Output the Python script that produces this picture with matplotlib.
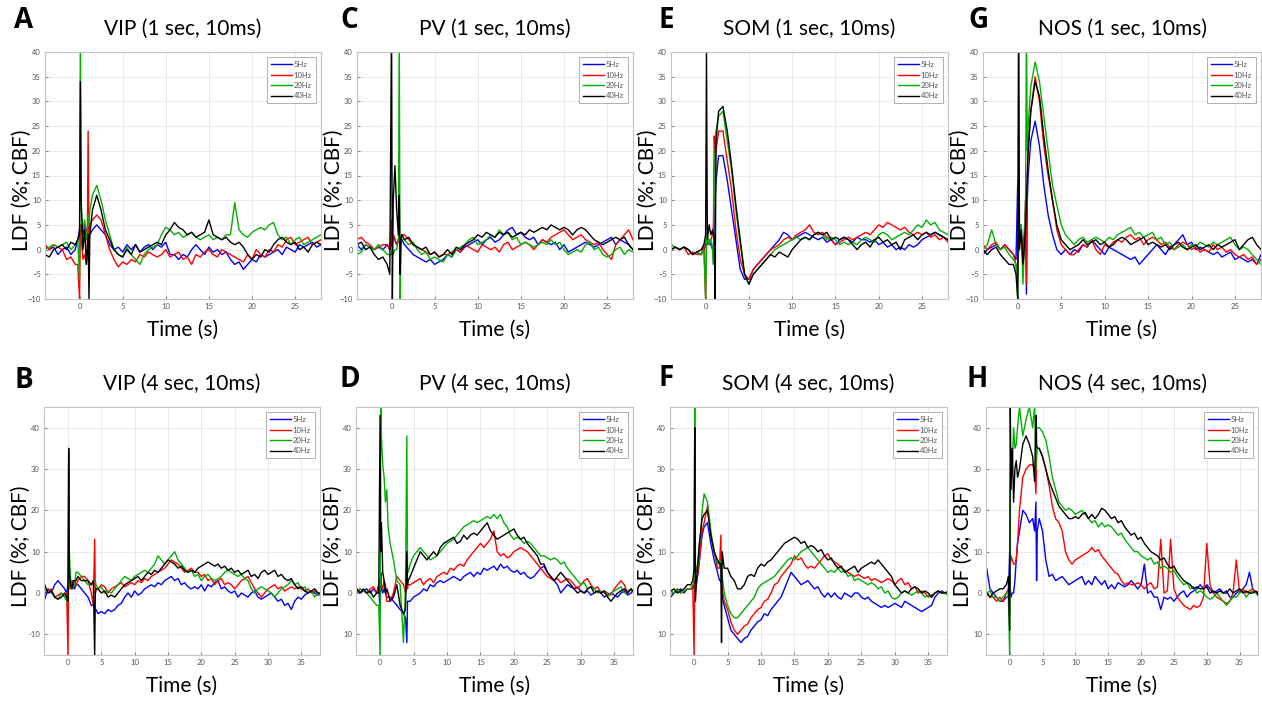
import numpy as np
import matplotlib.pyplot as plt

plt.rcParams['font.family'] = ['Lato', 'DejaVu Sans']

# %% sample times (s)
t_top = np.concatenate([np.arange(-4, 0, 0.5),
                        [-0.2, 0, 0.1, 0.2, 0.4, 0.6, 0.8, 0.9, 1.0, 1.1, 1.2],
                        np.arange(1.5, 28.01, 0.5)])
t_bot = np.concatenate([np.arange(-4, 0, 0.5),
                        [-0.2, 0, 0.1, 0.2, 0.4, 0.6, 0.8, 1.0, 1.2,
                         1.5, 2, 2.5, 3, 3.5, 3.8, 4.0, 4.1, 4.2],
                        np.arange(4.5, 38.01, 0.5)])

freqs = ['5Hz', '10Hz', '20Hz', '40Hz']

# %% A: VIP 1 sec
vip1_5 = [1, 0, 0.5, -1, 0, 0.5, -1, 0,
          2, 4, 2, 5, 3, 5, 4, 3, 2, 3, 3,
          4, 5, 4, 3, 1, 0, 0.5, -0.5, 1, 0,
          1, -0.5, 0.5, 1, 0, 1, 0.5, 1.5, -1, -1,
          -2, -1, -1.5, 0, 1, 0, -1, 0.5, -0.5, 0,
          -1, -0.5, -2, -3, -2.5, -4, -3, -2, -2.5, -1,
          -1.5, -1, -0.5, 0, -1, 0.5, 0, -0.5, 1, 0.5,
          1, 1.5, 0.5, 1]
vip1_10 = [1, 0, 1, 0.5, 0, -2, -1.5, -3,
           -3, -10, 5, 2, -2, -1, -3, 0, 24, 0, 5,
           6, 7, 6, 3, 0, -2, -3.5, -2.5, -3, -2,
           -2.5, -1, -1.5, -0.5, -1, -1.5, -1, 0, -1.5, -1,
           -0.5, -2, -1.5, -3, -1, -1.5, -0.5, 0, -1, -1.5,
           0, -0.5, -1, -1.5, -2, -2.5, -1, -2, 0, -1,
           -1.5, 0, -0.5, 1, 0.5, 2, 2.5, 1, 1.5, 2,
           2.5, 1, 1.5, 2]
vip1_20 = [0, 0.5, 1, 0.5, 1, 1.5, 0, 1,
           2, -6, 45, 8, 4, 6, 2, 4, 7, 5, 8,
           11, 13, 10, 6, 3, 0, -1, -1.5, 0.5, -1,
           -2, -3, -1, 0, 0.5, 1, 3, 4.5, 4, 3,
           3.5, 2.5, 3, 3.5, 2.5, 2, 2.5, 3, 2, 2.5,
           2, 3, 3, 9.5, 4, 3, 2.5, 3.5, 4, 4.5,
           4, 5, 5.5, 3, 2, 2.5, 1, 2, 2.5, 1,
           1.5, 2, 2.5, 3]
vip1_40 = [-1, -1.5, 0, 0.5, 1, 0, 1.5, 1,
           2, 3, 34, 10, 0, 4, -3, 0, 3, -10, 3,
           8, 11, 8, 4, 2, 0, -1, -1.5, 0, -1,
           1, -0.5, 0, 0.5, 1, 1.5, 1, 3, 4, 5.5,
           4.5, 4, 3, 3.5, 2.5, 3, 3.5, 6, 3, 2.5,
           2, 2.5, 1.5, 1, 1.5, 0.5, -1, -2, -1, -1.5,
           0, -0.5, 1, 2, 2.5, 1.5, 1, 1.5, 0, 0.5,
           -0.5, 1, 1.5, 1]

# %% C: PV 1 sec
pv1_5 = [1, 0, 1, 0.5, 0, 0.5, 0, 1,
         0, 1, 2, 3, 2, 1, 2, 3, 2, 2, 2,
         1, 0, -1, -1.5, -2, -2.5, -2, -3, -2.5, -2,
         -1, -1.5, 0, -0.5, 0.5, 1, 1.5, 2, 1, 2,
         2.5, 1.5, 2, 3, 4, 4.5, 3, 3.5, 2.5, 2,
         2.5, 1, 2, 1.5, 1, 1.5, 0, 1, -0.5, 0,
         0.5, 1, 1.5, 1, 0.5, 1, 1.5, 2, 2.5, 1,
         2, 1.5, 1, 0]
pv1_10 = [2, 2.5, 1.5, 1, 0, 0.5, 1, 1,
          0, 6, 1, 3, 2, 1, 2, 2, 1, 2, 3,
          3, 2, 1, 0.5, 0, -0.5, -1, -0.5, -1.5, -1,
          -1, -0.5, 0, -0.5, 1, 0.5, 0, -0.5, 1, 0.5,
          0, 0.5, -0.5, 1, 1.5, 0, 0.5, 1, 1.5, 1,
          0, 1, 2, 1.5, 2.5, 3, 3.5, 4, 3, 2,
          2.5, 3, 2, 1.5, 1, 1.5, 0, -1, -2, 1,
          2, 3, 4, 2]
pv1_20 = [-1, -0.5, 1, 0.5, 0, 1, 0, -1,
          -1, -1, 0, -1, 0, 0, 2, 45, -12, 2, 2,
          2, 1, 1.5, 0, -1, -0.5, -2, -1.5, -2, -2.5,
          -1, -1.5, 0, 0.5, 1, 2, 2.5, 1, 1.5, 2,
          3, 2.5, 4, 3, 3.5, 2, 2.5, 1, 1.5, 1,
          0.5, 1, 1.5, 1, 2, 1, 1.5, 0, -1, -0.5,
          0, -0.5, 1, 1.5, 0, 0.5, -1, -1.5, -1, 0,
          0.5, -1, 0, -0.5]
pv1_40 = [1, 1.5, 0, 0.5, -1, -2, -1.5, -3,
          -5, 45, -10, 10, 17, 8, 3, 11, -5, 2, 3,
          2, 2.5, 1, 0.5, 0, 0.5, -1, -0.5, -1.5, -1,
          0, -1, 0.5, 0, 1, 1.5, 2, 3, 2.5, 3.5,
          3, 2.5, 3.5, 3, 3.5, 2.5, 3, 3.5, 3, 4,
          3.5, 4, 4.5, 4, 5, 4.5, 4, 4.5, 4, 3,
          4, 4.5, 4, 3, 2, 1.5, 1, 1.5, 2, 2.5,
          2, 2.5, 1, 0]

# %% E: SOM 1 sec
som1_5 = [0, 0.5, 0, 0.5, 0, -1, -0.5, -1,
          0, 1, 2, 1, 2, 1, 0, 1, 3, 10, 14,
          19, 19, 14, 8, 2, -4, -6, -6, -4, -3,
          -2, -1, 0, 1, 2, 3.5, 3, 2, 2.5, 3,
          3.5, 3, 2.5, 2, 2.5, 1.5, 2, 1, 2, 2.5,
          2, 1.5, 2.5, 2, 2, 1.5, 2, 1, 1.5, 0.5,
          1, 0, 0.5, 0, 1, 0.5, 1, 2, 2.5, 3,
          3.5, 3, 2.5, 2]
som1_10 = [0, 0.5, 0, 0.5, -1, -0.5, -1, -1,
           1, -10, 2, 2, 1, 2, 3, 5, 23, 16, 20,
           24, 24, 18, 12, 4, -2, -5, -6, -4, -3,
           -2, -1, 0, 0.5, 1, 2, 2.5, 2, 3, 3.5,
           4, 5, 3.5, 3, 3.5, 2.5, 2, 1, 1.5, 2,
           2.5, 2, 2.5, 3, 3.5, 3, 4, 5, 4.5, 5.5,
           5, 4.5, 4, 4.5, 3.5, 3, 3.5, 3, 3.5, 2.5,
           3, 2, 2.5, 1.5]
som1_20 = [1, 0.5, 0, 0.5, 0, -1, -0.5, -1,
           0, -10, 2, 3, 1, 2, 0, -3, 18, 20, 24,
           27, 28, 22, 16, 8, 1, -5, -7, -5, -4,
           -3, -2, -1, 0, 0.5, 1, 1.5, 2, 2.5, 2,
           2.5, 2, 3, 3.5, 3, 2, 2.5, 2, 1, 1.5,
           1, 1.5, 1, 2, 2.5, 2, 1.5, 3, 3.5, 3,
           2, 2.5, 3, 3.5, 3, 4, 5, 4.5, 6, 5,
           5.5, 4, 3.5, 3]
som1_40 = [0, 0.5, 0, 0.5, 0, -1, -0.5, 0,
           1, 3, 40, 2, 5, 3, 4, 3, 2, -10, 22,
           28, 29, 24, 17, 9, 2, -5, -7, -5, -4,
           -3, -2, -1, -1.5, -0.5, -1, -1.5, 0, 1, 2,
           2.5, 2, 3, 3.5, 3, 3.5, 2, 2.5, 2, 2.5,
           2, 1, 0, 1, 1.5, 0.5, 2, 2.5, 1.5, 2,
           1, 1.5, 0, 2, 2.5, 3, 2, 3, 3.5, 3,
           3.5, 3, 2.5, 2]

# %% G: NOS 1 sec
nos1_5 = [-1, 0, 0.5, 1, 0, 1, 0, -1,
          -2, 14, 0, 3, 5, -3, 0, 8, -9, 10, 15,
          22, 26, 21, 13, 7, 3, 0, -1, 0, -1,
          0, -0.5, 1, 0.5, 2, 1, 0, -1, 0.5, 0,
          -0.5, -1, -1.5, -2, -1.5, -3, -2, -1, 0, 1,
          0, -1, 0.5, 1, 2, 3, 1, 1.5, 0, 0.5,
          0, -0.5, -1, -0.5, -1.5, -1, -0.5, -2, -1.5, -2,
          -2.5, -2, -3, -1]
nos1_10 = [1, 0, 1, 1.5, 0, 1, 0, -1,
           -3, -5, 0, 5, 3, 0, 5, 10, -7, 15, 20,
           28, 35, 30, 21, 15, 10, 4, 1, 0, -1,
           -1, 0, 1, 0.5, 2, 0, -1, 1, 0.5, 1.5,
           2, 1.5, 2.5, 3, 2, 2.5, 1, 2, 2.5, 2,
           1, 1.5, 0.5, 0, 1, 1.5, 1, 0, 0.5, -0.5,
           0, -0.5, 1, 0, 0.5, -0.5, 0, -1, -1.5, -1,
           -2, -1.5, -3, -2]
nos1_20 = [0, 1, 4, 1, 0, 0.5, -1, -2,
           -3, -10, 45, 3, 5, -7, 3, 10, 45, 20, 25,
           33, 38, 34, 27, 20, 13, 9, 5, 3, 2,
           1, 2, 2.5, 1.5, 2, 2.5, 2, 1.5, 2.5, 2,
           3, 3.5, 4, 4.5, 3, 3.5, 2.5, 3, 3.5, 2,
           2.5, 1, 1.5, 0, 0.5, 1, 0, 1, 0.5, 1.5,
           1, 0.5, 1.5, 1, 1.5, 2, 2.5, 1, 0, 0.5,
           0, -1, -2, -3]
nos1_40 = [0, -1, 0, 0.5, -1, -2, -3, -3,
           -5, -10, 45, 0, 4, -3, 2, 5, 10, 15, 20,
           28, 34, 31, 23, 16, 10, 5, 2, 1, 0,
           0.5, 1, 2, 1, 1.5, 2, 1, 1.5, 0.5, 1,
           2, 2.5, 2, 1, 1.5, 2, 2.5, 1, 1.5, 1,
           0.5, 1, 0, 1, 1.5, 0.5, 0, 0.5, 1, 0,
           0.5, 1, 0, 1, 0.5, 1, 1.5, 2, 0, 1,
           2, 2.5, 1, 0]

# %% B: VIP 4 sec
vip4_5 = [-2, -1.5, 1, 0, 2, 3, 2, 1,
          0, 2, 1, 3, 2, 3, 2, 1, 2, 2, 1, 0, -1, -3, -3, -4, -4, -4,
          -5, -4.5, -5, -4, -4.5, -4, -3, -2.5, -1, 0,
          -1, 0.5, -0.5, 0, 1, 1.5, 2, 1.5, 2.5, 2,
          3, 3.5, 4, 3, 3.5, 2, 2.5, 1.5, 1, 1.5,
          1, 2, 0.5, 2, 1.5, 2.5, 3, 1, 1.5, 0.5,
          0, 0.5, -1, 0, -0.5, -1, 0, 0.5, -1, -1.5,
          -1, -0.5, 0, -1, -2, -1.5, -3, -2.5, -4, -2,
          -1, -1.5, -0.5, 0, 0.5, 0, -0.5, 0]
vip4_10 = [1, 0, 0.5, 1, -1, -0.5, 0, -1,
           0, -15, 6, 2, 1, 2, 3, 3, 2, 3, 4, 4, 3, 0, -3, 13, 0, 1,
           1, 2, 1.5, 0, 1, 1.5, 2, 2.5, 1.5, 2,
           2.5, 2, 3, 2.5, 3.5, 3, 4, 4.5, 5, 5.5,
           6, 7, 8, 7.5, 7, 6, 5, 5.5, 6, 5,
           5, 4, 4.5, 3, 3.5, 2, 3, 3.5, 2, 2.5,
           2, 1, 2, 3, 3.5, 4, 2.5, 1, 0, -1,
           0, 1, 1.5, 2, 1, 1.5, 0.5, 1, 1.5, 1,
           1.5, 1, 0.5, 1, 0, 0.5, 0, -0.5]
vip4_20 = [3, 1, 0, 0.5, -1, -1.5, 0, -1,
           -2, 0, 34, 10, 3, 2, 1, 2, 5, 5, 4, 3, 2, 2, 3, 3, 3, 2,
           1, 1.5, 0, 0.5, 0, 1, 2, 3, 4, 3.5,
           3, 4, 4.5, 5, 5.5, 5, 6, 7, 9, 8,
           7, 8, 9, 10, 8, 7, 6, 5, 5.5, 4,
           4.5, 3, 4, 4.5, 3.5, 3, 3.5, 4, 5, 5.5,
           5, 4.5, 4, 4.5, 3.5, 3, 1, 0, 1, 1.5,
           1, 0.5, 0, -1, 0, 1, 1.5, 2, 3, 2,
           2.5, 1, 1.5, 0, 0.5, -1, 0, -1]
vip4_40 = [4, 2, 0, 0.5, -1, -1.5, -1, 0,
           -1, -2, 35, 5, 2, 1, 3, 3, 3, 4, 3, 3, 3, 2, 3, -15, 0, 1,
           1, 0, 0.5, -1, -0.5, -1, 0, 1, 2, 2.5,
           3, 3.5, 4, 3, 4, 5, 4.5, 5.5, 5, 6,
           7, 8, 7.5, 7, 6, 6.5, 5.5, 5, 5.5, 5,
           6, 6.5, 7, 7.5, 7, 6.5, 7, 6, 6.5, 5.5,
           6, 5, 5.5, 4.5, 5, 5.5, 4, 4.5, 3.5, 5,
           5.5, 4.5, 5, 5.5, 4, 4.5, 3.5, 3, 3.5, 2,
           1, 1.5, 0.5, 0, 0.5, 1, 0, 0]

# %% D: PV 4 sec
pv4_5 = [0, 1, 0, 0.5, 1, 0, 1, 0,
         2, -5, 5, 1, 0, 1, 0, -1, -1, -1, -2, -3, -4, -5, -6, -12, -2, -2,
         -2, -1, -0.5, 0, 1, 0.5, 2, 1.5, 2.5, 3,
         2.5, 3, 3.5, 4, 3.5, 3, 4, 4.5, 5, 4,
         5, 4.5, 6, 5.5, 6, 6.5, 5.5, 7, 6, 6.5,
         5.5, 5, 5.5, 4.5, 5, 4, 3.5, 4, 5, 6,
         6.5, 5, 4, 3, 2, 0, 1, 2, 1.5, 1,
         1.5, 0.5, 0, 0.5, -0.5, 0, 0.5, 0, -1, -0.5,
         0, -0.5, -1, 0, 0.5, -0.5, 0, 1]
pv4_10 = [1, 0, 1, 0.5, 0, 1, 1.5, 0,
          2, 3, 4, 2, 1, 3, 2, -2, -2, -2, 0, 4, 3, 2, 0, 2, 1, 2,
          2, 2.5, 3, 3.5, 2, 3, 3.5, 2.5, 4, 4.5,
          5, 4.5, 6, 5.5, 6.5, 7, 6.5, 8, 9, 10,
          11, 12, 11, 12, 13, 15, 10, 9, 9.5, 8.5,
          9, 10, 10.5, 11, 10.5, 10, 9, 8, 7, 6,
          5, 4, 3.5, 3, 3.5, 2.5, 3, 3.5, 3, 2,
          1, 2, 3, 3.5, 2, 1, 1.5, 0, 0.5, 0,
          -0.5, 1, 2, 3, 2, 0, 1, 0]
pv4_20 = [1, 0, 1, 0.5, 0, -1, -2, -3,
          -3, -15, 45, 38, 31, 28, 22, 25, 16, 12, 8, 3, 2, -12, 2, 38, 6, 5,
          7, 9, 10, 11, 10, 9, 8, 8.5, 9, 10,
          11, 12, 12.5, 13, 14, 15, 16, 16.5, 17, 17.5,
          17, 17.5, 18, 18.5, 18, 19, 18, 19, 17, 16,
          14, 13, 13.5, 13, 12, 12.5, 12, 11, 10, 9,
          9, 8.5, 8, 8.5, 8, 7, 7.5, 6, 5, 4,
          3, 2, 2.5, 1, 1.5, 1, 0, 0.5, 0, -1,
          0, 0.5, 1, 1.5, 0, 0.5, 1, 0]
pv4_40 = [-1, 1, 0, 1, 0, 0.5, -1, 0,
          0, 43, 10, 17, 5, 3, 0, 1, 0, -2, -1, 2, -3, -5, -4, 10, 2, 3,
          4, 6, 8, 10, 9, 8, 9, 10, 9, 11,
          12, 12.5, 13, 13.5, 12, 12.5, 14, 13, 14, 14.5,
          14, 15, 16, 17, 15, 14, 13, 13.5, 14, 14.5,
          15, 15.5, 14, 13, 13.5, 12, 11, 10, 9, 7,
          7, 5, 4, 3, 4, 5, 4, 3, 2, 1,
          0, 0.5, 0, 1, 1.5, 0, 0.5, 0, 0.5, -1,
          -2, -1, 0, 0.5, 1, 0, 1, 0]

# %% F: SOM 4 sec
som4_5 = [-2, -1, 0, 0.5, 1, 0, 1, 1,
          1, 2, 3, 1, 3, 5, 8, 11, 14, 16, 17, 12, 8, 5, 3, 3, 2, -1,
          -3, -6, -9, -10, -11, -12, -11, -10.5, -9, -8,
          -7, -6.5, -5, -5.5, -4, -3, -2, -1, 1, 3,
          5, 4, 3, 2, 2.5, 3, 2, 1, 1.5, 0,
          -1, 0, -1, 0, -1, -1.5, 0, -0.5, -1, 0,
          0, -1, -1.5, -1, -2, -2.5, -3, -3.5, -3, -3.5,
          -3, -2.5, -3, -3.5, -2, -2.5, -3, -3.5, -4, -4.5,
          -4, -3.5, -3, -1, 0, 0.5, 0, 0]
som4_10 = [0, 0.5, 0, 1, 0, 0.5, 1, 1,
           2, -15, 3, 1, 3, 5, 8, 12, 15, 17, 21, 14, 10, 6, 6, 14, 3, 1,
           -2, -4, -7, -9, -10, -9, -8, -7.5, -6, -5,
           -4, -3.5, -2, -1.5, 0, 2, 2.5, 4, 5, 6,
           7, 9, 8, 8.5, 7, 6, 6.5, 6, 7, 8,
           9, 9.5, 8, 7.5, 7, 6, 5.5, 5, 4.5, 4,
           4.5, 4, 3.5, 4, 3, 3.5, 3, 2.5, 3, 3.5,
           3, 2, 3, 3.5, 2, 2.5, 1, 1.5, 0, 0.5,
           0, -1, -0.5, 0, 0.5, 0, 0, -0.5]
som4_20 = [0, 0.5, 0, 1, 0, 0.5, 1, 1,
           2, 3, 45, 7, 5, 8, 12, 15, 20, 24, 22, 15, 10, 7, 8, 7, 6, 4,
           0, -3, -5, -6, -6, -5, -4, -3, -2, -1,
           1, 2, 2.5, 3, 3.5, 4, 5, 6, 7, 8,
           8.5, 8, 9, 10, 10.5, 11, 10, 9, 8, 7,
           6, 5, 5.5, 5, 6, 5, 5.5, 4, 4.5, 3,
           3.5, 3, 2.5, 2, 2.5, 2, 1, 1.5, 0, 0.5,
           -1, -1.5, -1, 0, 0.5, 0, -0.5, 0, 0.5, 0,
           -1, -0.5, -1, 0, 0.5, 0, 0, -0.5]
som4_40 = [0, 0.5, 1, 0, 0.5, 1, 2, 2,
           3, 6, 40, -2, 4, 8, 12, 15, 18, 19, 20, 14, 10, 8, 7, 7, -12, 10,
           6, 6, 4, 3, 1, 1, 2, 4, 4.5, 4,
           6, 7, 6.5, 7.5, 8, 9, 10, 11, 12, 12.5,
           13, 13.5, 13, 12, 12.5, 11, 11.5, 11, 10, 10.5,
           9, 8, 8.5, 7, 6, 6.5, 5, 5.5, 6, 6.5,
           5, 6, 6.5, 7, 7.5, 7, 8, 7, 6, 5,
           4, 2, 1, 0, 0.5, 0, 1, 1.5, 1, 0,
           0.5, 0, -1, 0, 0.5, 0, 0, 0.5]

# %% H: NOS 4 sec
nos4_5 = [3, 6, 1, 0, -1, -2, -2, -1,
          -1, 10, 1, -1, 0, 0, 3, 8, 12, 15, 20, 19, 17, 18, 15, 22, 3, 15,
          18, 15, 8, 4, 4.5, 3, 3.5, 4, 3, 2,
          2.5, 3, 3.5, 4, 2, 3, 2, 4, 3, 2,
          3, 1, 2, 1, 2.5, 2, 1.5, 2, 3, 2,
          1, 2, 7, 0, 0.5, -1, -1, -4, -1, -1.5,
          -1, -2, -1, 0, 0.5, -1, 0, 0.5, 1, 2,
          1, 2, 1, 0, 0.5, 1, 0, 0.5, -1, -1,
          0, 0.5, 1, 2, 5, 1, 0, 0.5]
nos4_10 = [1, 0, -1, -1, -2, -1, -2, 0,
           1, 3, 6, 9, 8, 7, 7, 8, 12, 20, 28, 30, 31, 31, 30, 24, 33, 35,
           35, 33, 30, 26, 21, 18, 17, 15, 10, 8,
           7, 8, 8.5, 9, 9.5, 10, 11, 10, 10.5, 9,
           8, 7, 6, 5, 4.5, 3, 2, 2.5, 2, 2,
           2.5, 2, 1, 2, 2.5, 1, 1.5, 13, 0, 0.5,
           13, 1, -1, -2, -3, -3.5, -4, -3, -3.5, -3,
           -1, 12, 2, 0, -1, -1.5, -2, -2.5, -2, 0,
           8, 0, 1, 0, 0.5, 1, 0, 0.5]
nos4_20 = [1, 0, 0.5, -1, -1, -2, -1, 0,
           0, -15, 25, 35, 30, 40, 35, 36, 40, 45, 38, 42, 45, 40, 45, 30, 40, 40,
           40, 39, 37, 33, 28, 25, 22, 21, 20, 20.5,
           20, 19, 19.5, 20, 19, 18, 17, 17.5, 16, 17,
           16, 16.5, 16, 15, 14, 14.5, 13, 12, 11, 10,
           10, 9, 8.5, 8, 8.5, 7, 7.5, 6, 6.5, 6,
           5, 5.5, 4, 3, 2, 2.5, 1, 1.5, 0, 0.5,
           0, -1, -1.5, -1, 0, -1, -2, -3, -2, -1,
           -1, 0, 0.5, -1, 0, 0.5, 0, -1]
nos4_40 = [1, 0, -1, 0, 0.5, 1, 1, 2,
           4, -9, 45, 25, 35, 22, 30, 32, 28, 30, 36, 38, 36, 33, 27, 43, 36, 35,
           35, 33, 30, 27, 25, 23, 21, 20, 19, 18,
           18, 18.5, 18, 19, 19.5, 18, 19, 18, 19, 20.5,
           20, 19, 18, 18.5, 17, 17.5, 16, 15, 14, 14.5,
           13, 13.5, 12, 11, 10, 9.5, 9, 8, 8.5, 7,
           6, 6.5, 5, 4, 3, 2.5, 2, 1, 1.5, 1,
           1, 1.5, 0, 0.5, 0, 0.5, 0, 0, 1, 0,
           0.5, 1, 0, 0.5, 0, 0, 0.5, -1]

# %% panel setup: letter, title, row, series, pixel box (left, top, right, bottom), letter pos
W, H = 1262, 706
colors = ['#0000ff', '#ff0000', '#00b000', '#000000']
panels = [
    ('A', 'VIP (1 sec, 10ms)', 'top', [vip1_5, vip1_10, vip1_20, vip1_40], (45, 52, 321, 299), (24, 20)),
    ('C', 'PV (1 sec, 10ms)', 'top', [pv1_5, pv1_10, pv1_20, pv1_40], (357, 52, 633, 299), (349, 20)),
    ('E', 'SOM (1 sec, 10ms)', 'top', [som1_5, som1_10, som1_20, som1_40], (671, 52, 948, 299), (666, 20)),
    ('G', 'NOS (1 sec, 10ms)', 'top', [nos1_5, nos1_10, nos1_20, nos1_40], (983, 52, 1261, 299), (978, 20)),
    ('B', 'VIP (4 sec, 10ms)', 'bot', [vip4_5, vip4_10, vip4_20, vip4_40], (44, 407, 320, 655), (24, 381)),
    ('D', 'PV (4 sec, 10ms)', 'bot', [pv4_5, pv4_10, pv4_20, pv4_40], (356, 407, 633, 655), (350, 380)),
    ('F', 'SOM (4 sec, 10ms)', 'bot', [som4_5, som4_10, som4_20, som4_40], (670, 407, 947, 655), (666, 379)),
    ('H', 'NOS (4 sec, 10ms)', 'bot', [nos4_5, nos4_10, nos4_20, nos4_40], (986, 407, 1258, 655), (977, 380)),
]

fig = plt.figure(figsize=(W / 100, H / 100), dpi=100)

for letter, title, row, series, box, lpos in panels:
    l, t, r, b = box
    ax = fig.add_axes([l / W, (H - b) / H, (r - l) / W, (b - t) / H])
    tt = t_top if row == 'top' else t_bot
    for y, c, lab in zip(series, colors, freqs):
        ax.plot(tt, y, color=c, lw=1.0, label=lab)
    if row == 'top':
        ax.set_xlim(-4, 28)
        ax.set_ylim(-10, 40)
        ax.set_xticks(range(0, 26, 5))
        ax.set_yticks(range(-10, 41, 5))
    else:
        ax.set_xlim(-3.6, 37.8)
        ax.set_ylim(-15, 45)
        ax.set_xticks(range(0, 36, 5))
        ax.set_yticks(range(-10, 41, 10))
        neg = '-10' if letter == 'B' else '10'
        ax.set_yticklabels([neg, '0', '10', '20', '30', '40'])
    ax.grid(True, color='#e6e6e6', lw=0.6)
    ax.set_axisbelow(True)
    for s in ax.spines.values():
        s.set_color('#c4c4c4')
        s.set_linewidth(0.8)
    ax.tick_params(labelsize=5.5, colors='#8a8a8a', labelcolor='#555555',
                   length=2, direction='in', pad=3)
    ax.set_xlabel('Time (s)', fontsize=15, va='center')
    ax.xaxis.set_label_coords(0.5, -31 / (b - t))
    ax.set_ylabel('LDF (%; CBF)', fontsize=15, va='center')
    ax.yaxis.set_label_coords(-23 / (r - l), 0.44)
    ax.text(0.5, 1 + 23 / (b - t), title, transform=ax.transAxes,
            ha='center', va='center', fontsize=15)
    leg = ax.legend(loc='upper right', fontsize=5.5, frameon=True, fancybox=False,
                    edgecolor='#b0b0b0', framealpha=1, handlelength=2.8,
                    labelspacing=0.45, borderpad=0.5, borderaxespad=0.7,
                    handletextpad=0.2, labelcolor='#555555')
    leg.get_frame().set_linewidth(0.7)
    fig.text(lpos[0] / W, 1 - lpos[1] / H, letter, ha='center', va='center',
             fontsize=20, fontweight='bold', family=['Open Sans', 'DejaVu Sans'])

fig.savefig('out.png', dpi=100)
